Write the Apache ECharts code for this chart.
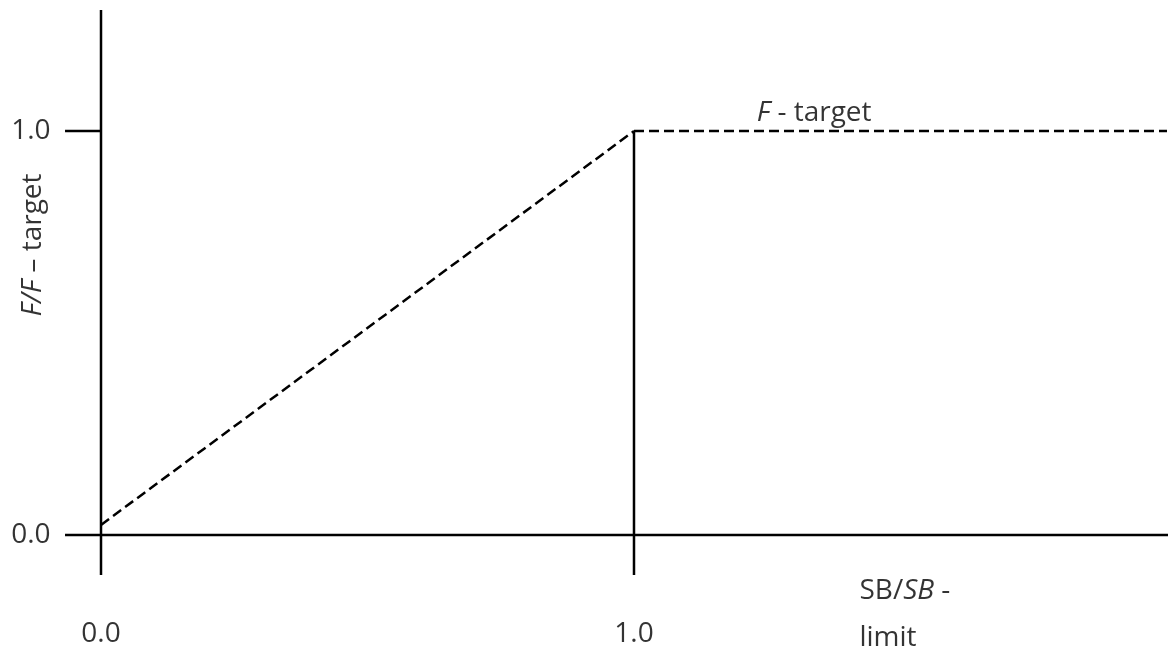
<!DOCTYPE html>
<html>
<head>
<meta charset="utf-8">
<script src="https://cdn.jsdelivr.net/npm/echarts@6/dist/echarts.min.js"></script>
<style>html,body{margin:0;padding:0;background:#fff}#c{width:1168px;height:649px}</style>
</head>
<body>
<div id="c"></div>
<script>
// Harvest control rule data
const hcrX = [0.0, 1.0, 2.0];
const hcrY = [0.025, 1.0, 1.0];
const limitX = 1.0;
const xTickValues = [0.0, 1.0];
const xTickLabels = ['0.0', '1.0'];
const yTickValues = [0.0, 1.0];
const yTickLabels = ['0.0', '1.0'];
const xAxisTitle = ['SB/{i|SB} -', 'limit'];
const yAxisTitle = '{i|F/F} – target';
const targetLabel = '{i|F} - target';

// view extents (data units)
const X_MIN = -0.1895, X_MAX = 2.0019;
const Y_MIN = -0.2822, Y_MAX = 1.3243;
const AX_LEFT = -0.0675, AX_BOTTOM = -0.099, AX_TOP = 1.2995;

const font = 'Open Sans';
const fs = 28;
const rich = { i: { fontStyle: 'italic', fontFamily: font, fontSize: fs, color: '#000' } };

function seg(data, dashed) {
  return {
    type: 'line', data: data, symbol: 'none', silent: true, animation: false,
    lineStyle: { color: '#000', width: 2.5, type: dashed ? [10, 5] : 'solid' }
  };
}
function txt(x, y, text, opts) {
  return Object.assign({
    value: [x, y],
    label: Object.assign({
      show: true, position: 'inside', formatter: text, fontFamily: font,
      fontSize: fs, color: '#000', rich: rich
    }, opts || {})
  });
}

const labels = [];
xTickValues.forEach((v, i) => labels.push(txt(v, -0.245, xTickLabels[i])));
yTickValues.forEach((v, i) => labels.push(txt(-0.0863, v, yTickLabels[i], { align: 'right', position: 'insideRight' })));
labels.push(txt(1.4146, -0.1386, xAxisTitle[0], { align: 'left', position: 'insideLeft' }));
labels.push(txt(1.4146, -0.255, xAxisTitle[1], { align: 'left', position: 'insideLeft' }));
labels.push(txt(1.338, 1.0446, targetLabel));
labels.push(txt(-0.1276, 0.718, yAxisTitle, { rotate: 90 }));

const option = {
  animation: false,
  grid: { left: 0, right: 0, top: 0, bottom: 0 },
  xAxis: { type: 'value', min: X_MIN, max: X_MAX, show: false },
  yAxis: { type: 'value', min: Y_MIN, max: Y_MAX, show: false },
  series: [
    seg([[AX_LEFT, 0], [X_MAX, 0]], false),
    seg([[0, AX_BOTTOM], [0, AX_TOP]], false),
    seg([[AX_LEFT, yTickValues[1]], [0, yTickValues[1]]], false),
    seg([[limitX, AX_BOTTOM], [limitX, hcrY[1]]], false),
    seg([[hcrX[0], hcrY[0]], [hcrX[1], hcrY[1]]], true),
    seg([[hcrX[1], hcrY[1]], [hcrX[2], hcrY[2]]], true),
    {
      type: 'scatter', symbolSize: 1, itemStyle: { color: 'rgba(0,0,0,0)' },
      silent: true, data: labels
    }
  ]
};
const chart = echarts.init(document.getElementById('c'), null, { renderer: 'canvas' });
chart.setOption(option);
</script>
</body>
</html>
